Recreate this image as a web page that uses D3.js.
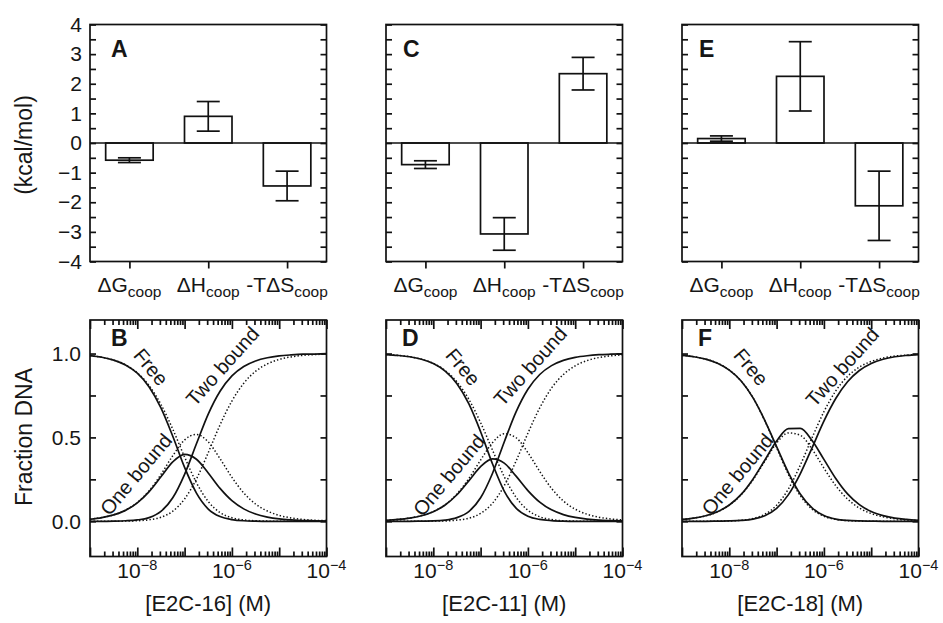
<!DOCTYPE html>
<html>
<head>
<meta charset="utf-8">
<script src="https://cdnjs.cloudflare.com/ajax/libs/d3/7.8.5/d3.min.js"></script>
<style>
  body { margin: 0; background: #fff; }
  svg text { font-family: "Liberation Sans", Arial, Helvetica, sans-serif; fill: #161616; }
</style>
</head>
<body>
<svg width="943" height="623"></svg>
<script>
// ---- data: top row, cooperativity energies (kcal/mol) ----
const categories = ["ΔG", "ΔH", "-TΔS"];
const energyA = [-0.58, 0.90, -1.45];
const energyC = [-0.73, -3.07, 2.34];
const energyE = [0.15, 2.25, -2.12];
const errorA = [0.08, 0.50, 0.50];
const errorC = [0.13, 0.55, 0.55];
const errorE = [0.09, 1.17, 1.17];
const energyTicks = [4, 3, 2, 1, 0, -1, -2, -3, -4];

// ---- data: bottom row, fraction of DNA species vs concentration ----
const conc = [1e-9, 1.78e-9, 3.16e-9, 5.62e-9, 1e-8, 1.78e-8, 3.16e-8, 5.62e-8, 1e-7, 1.78e-7, 3.16e-7,
              5.62e-7, 1e-6, 1.78e-6, 3.16e-6, 5.62e-6, 1e-5, 1.78e-5, 3.16e-5, 5.62e-5, 1e-4];
// solid = fitted (cooperative), dotted = non-cooperative
const freeB   = [.988,.978,.961,.932,.883,.801,.676,.507,.321,.168,.073,.028,.010,.003,.001,0,0,0,0,0,0];
const oneB    = [.012,.022,.038,.065,.110,.177,.265,.354,.399,.370,.288,.196,.123,.074,.043,.025,.014,.008,.004,.003,.001];
const twoB    = [0,0,.001,.003,.008,.022,.059,.140,.280,.462,.639,.775,.867,.923,.956,.975,.986,.992,.996,.997,.999];
const freeBnc = [.987,.978,.961,.933,.885,.809,.697,.549,.383,.230,.118,.052,.021,.008,.003,.001,0,0,0,0,0];
const oneBnc  = [.013,.022,.038,.066,.112,.182,.279,.391,.485,.518,.473,.373,.262,.169,.103,.061,.035,.020,.011,.006,.004];
const twoBnc  = [0,0,0,.001,.003,.009,.024,.060,.133,.252,.409,.575,.717,.823,.894,.938,.965,.980,.989,.994,.996];

const freeD   = [.994,.989,.981,.966,.940,.895,.820,.701,.534,.343,.180,.078,.030,.011,.004,.001,0,0,0,0,0];
const oneD    = [.006,.011,.019,.033,.057,.097,.158,.241,.326,.372,.347,.269,.183,.114,.068,.040,.023,.013,.007,.004,.002];
const twoD    = [0,0,0,.001,.002,.007,.022,.058,.140,.285,.473,.652,.787,.875,.928,.959,.977,.987,.993,.996,.998];
const freeDnc = [.994,.989,.981,.966,.941,.899,.831,.728,.588,.425,.266,.143,.066,.027,.010,.003,.001,0,0,0,0];
const oneDnc  = [.006,.011,.019,.034,.058,.099,.163,.254,.365,.468,.522,.498,.409,.297,.196,.121,.072,.042,.024,.014,.008];
const twoDnc  = [0,0,0,0,.001,.002,.007,.018,.047,.107,.212,.359,.525,.676,.794,.875,.927,.958,.976,.986,.992];

const freeF   = [.989,.981,.967,.942,.901,.836,.737,.602,.445,.289,.163,.080,.034,.013,.005,.002,.001,0,0,0,0];
const oneF    = [.011,.019,.033,.057,.097,.160,.251,.364,.478,.552,.554,.482,.369,.255,.163,.099,.058,.034,.019,.011,.006];
const twoF    = [0,0,0,.001,.002,.005,.013,.033,.077,.159,.283,.438,.597,.732,.832,.899,.941,.966,.981,.989,.994];
const freeFnc = [.989,.981,.967,.943,.902,.836,.737,.600,.439,.279,.153,.072,.030,.011,.004,.001,0,0,0,0,0];
const oneFnc  = [.011,.019,.032,.056,.096,.158,.247,.358,.466,.527,.513,.430,.317,.212,.133,.079,.046,.027,.015,.009,.005];
const twoFnc  = [0,0,0,.001,.002,.006,.016,.042,.096,.193,.334,.498,.653,.777,.864,.919,.953,.973,.985,.991,.995];

const xTitles = ["[E2C-16] (M)", "[E2C-11] (M)", "[E2C-18] (M)"];
const fracTicks = [0, 0.5, 1.0];

// ---- layout ----
const svg = d3.select("svg");
const W = 236.5;
const colX = [90, 386, 682];
const topY0 = 24.5, topY1 = 261.5;
const botY0 = 320, botY1 = 556.5;
const ink = "#111";
const lw = 1.7;

const topPanels = [
  { letter: "A", values: energyA, errors: errorA },
  { letter: "C", values: energyC, errors: errorC },
  { letter: "E", values: energyE, errors: errorE }
];
const botPanels = [
  { letter: "B", fit: [freeB, oneB, twoB], nc: [freeBnc, oneBnc, twoBnc] },
  { letter: "D", fit: [freeD, oneD, twoD], nc: [freeDnc, oneDnc, twoDnc] },
  { letter: "F", fit: [freeF, oneF, twoF], nc: [freeFnc, oneFnc, twoFnc] }
];
// curve label anchors: [text, log10 conc, fraction, angle]
const curveLabels = [
  [["Free", -7.71, 0.92, 50], ["One bound", -8.03, 0.28, -50], ["Two bound", -6.20, 0.925, -48]],
  [["Free", -7.37, 0.92, 50], ["One bound", -7.67, 0.275, -50], ["Two bound", -5.95, 0.925, -48]],
  [["Free", -7.54, 0.92, 50], ["One bound", -7.83, 0.28, -50], ["Two bound", -5.61, 0.92, -48]]
];

function cleanAxis(g) {
  g.select(".domain").remove();
  g.selectAll("line").attr("stroke", ink).attr("stroke-width", lw);
  g.selectAll("text").style("font-size", "21px");
}

// ---- top row ----
topPanels.forEach((p, i) => {
  const x0 = colX[i];
  const g = svg.append("g");
  const y = d3.scaleLinear().domain([-4, 4]).range([topY1, topY0]);
  const x = d3.scalePoint().domain(categories).range([x0, x0 + W]).padding(0.5);
  const half = d3.range(-4, 4.01, 0.5);

  g.append("g").attr("transform", `translate(${x0},0)`)
    .call(d3.axisLeft(y).tickValues(half).tickSize(-6).tickFormat(""))
    .call(cleanAxis);
  g.append("g").attr("transform", `translate(${x0 + W},0)`)
    .call(d3.axisRight(y).tickValues(half).tickSize(-6).tickFormat(""))
    .call(cleanAxis);
  if (i === 0) {
    g.append("g").attr("transform", `translate(${x0},0)`)
      .call(d3.axisLeft(y).tickValues(energyTicks).tickSize(0).tickPadding(8))
      .call(cleanAxis);
  }
  g.append("g").attr("transform", `translate(0,${topY1})`)
    .call(d3.axisBottom(x).tickSize(7).tickFormat(""))
    .call(cleanAxis);
  categories.forEach(c => {
    const t = g.append("text").attr("x", x(c)).attr("y", 292)
      .attr("text-anchor", "middle").style("font-size", "21px");
    t.append("tspan").text(c);
    t.append("tspan").attr("dy", 5).style("font-size", "15.5px").text("coop");
  });

  // zero line
  g.append("line").attr("x1", x0).attr("x2", x0 + W).attr("y1", y(0)).attr("y2", y(0))
    .attr("stroke", ink).attr("stroke-width", lw);

  // bars
  const bw = 47.5;
  g.selectAll(".bar").data(p.values).enter().append("rect")
    .attr("x", (d, k) => x(categories[k]) - bw / 2)
    .attr("y", d => y(Math.max(0, d)))
    .attr("width", bw)
    .attr("height", d => Math.abs(y(d) - y(0)))
    .attr("fill", "none").attr("stroke", ink).attr("stroke-width", lw);

  // error bars
  p.values.forEach((v, k) => {
    const cx = x(categories[k]), e = p.errors[k];
    g.append("line").attr("x1", cx).attr("x2", cx).attr("y1", y(v - e)).attr("y2", y(v + e))
      .attr("stroke", ink).attr("stroke-width", lw);
    [v - e, v + e].forEach(ev => {
      g.append("line").attr("x1", cx - 11.5).attr("x2", cx + 11.5).attr("y1", y(ev)).attr("y2", y(ev))
        .attr("stroke", ink).attr("stroke-width", lw);
    });
  });

  g.append("rect").attr("x", x0).attr("y", topY0).attr("width", W).attr("height", topY1 - topY0)
    .attr("fill", "none").attr("stroke", ink).attr("stroke-width", lw);

  g.append("text").attr("x", x0 + (i === 0 ? 21 : 17)).attr("y", topY0 + 32)
    .style("font-size", "23px").style("font-weight", "bold").text(p.letter);
});

// ---- bottom row ----
botPanels.forEach((p, i) => {
  const x0 = colX[i];
  const g = svg.append("g");
  const x = d3.scaleLog().domain([1e-9, 1e-4]).range([x0, x0 + W]);
  const y = d3.scaleLinear().domain([-0.21, 1.2]).range([botY1, botY0]);

  const majors = [1e-9, 1e-8, 1e-7, 1e-6, 1e-5, 1e-4];
  const minors = [];
  majors.slice(0, 5).forEach(m => { for (let k = 2; k <= 9; k++) minors.push(m * k); });

  [[d3.axisBottom, botY1], [d3.axisTop, botY0]].forEach(([ax, yy]) => {
    g.append("g").attr("transform", `translate(0,${yy})`)
      .call(ax(x).tickValues(majors).tickSize(-9).tickFormat("")).call(cleanAxis);
    g.append("g").attr("transform", `translate(0,${yy})`)
      .call(ax(x).tickValues(minors).tickSize(-5).tickFormat("")).call(cleanAxis);
  });
  const qt = [0, 0.25, 0.5, 0.75, 1];
  g.append("g").attr("transform", `translate(${x0},0)`)
    .call(d3.axisLeft(y).tickValues(qt).tickSize(-6).tickFormat("")).call(cleanAxis);
  g.append("g").attr("transform", `translate(${x0 + W},0)`)
    .call(d3.axisRight(y).tickValues(qt).tickSize(-6).tickFormat("")).call(cleanAxis);
  if (i === 0) {
    g.append("g").attr("transform", `translate(${x0},0)`)
      .call(d3.axisLeft(y).tickValues(fracTicks).tickSize(0).tickPadding(9).tickFormat(d3.format(".1f")))
      .call(cleanAxis);
  }

  [-8, -6, -4].forEach(e => {
    const t = g.append("text").attr("x", x(Math.pow(10, e))).attr("y", 578)
      .attr("text-anchor", "middle").style("font-size", "21px");
    t.append("tspan").text("10");
    t.append("tspan").attr("dy", -8).style("font-size", "14.5px").text("−" + Math.abs(e));
  });

  g.append("text").attr("x", x0 + W / 2).attr("y", 611).attr("text-anchor", "middle")
    .style("font-size", "22px").text(xTitles[i]);

  const line = d3.line().x((d, k) => x(conc[k])).y(d => y(d)).curve(d3.curveMonotoneX);
  p.nc.forEach(s => {
    g.append("path").attr("d", line(s)).attr("fill", "none").attr("stroke", ink)
      .attr("stroke-width", 1.5).attr("stroke-dasharray", "1.4 2.1");
  });
  p.fit.forEach(s => {
    g.append("path").attr("d", line(s)).attr("fill", "none").attr("stroke", ink)
      .attr("stroke-width", lw);
  });

  curveLabels[i].forEach(([txt, lx, ly, ang]) => {
    const px = x(Math.pow(10, lx)), py = y(ly);
    g.append("text").attr("transform", `translate(${px},${py}) rotate(${ang})`)
      .attr("text-anchor", "middle").attr("dominant-baseline", "central")
      .style("font-size", "20px").text(txt);
  });

  g.append("rect").attr("x", x0).attr("y", botY0).attr("width", W).attr("height", botY1 - botY0)
    .attr("fill", "none").attr("stroke", ink).attr("stroke-width", lw);

  g.append("text").attr("x", x0 + (i === 0 ? 21 : 16)).attr("y", botY0 + 26)
    .style("font-size", "23px").style("font-weight", "bold").text(p.letter);
});

// y titles
svg.append("text").attr("transform", "translate(32,145) rotate(-90)").attr("text-anchor", "middle")
  .style("font-size", "23px").text("(kcal/mol)");
svg.append("text").attr("transform", "translate(32,437) rotate(-90)").attr("text-anchor", "middle")
  .style("font-size", "23px").text("Fraction DNA");
</script>
</body>
</html>
